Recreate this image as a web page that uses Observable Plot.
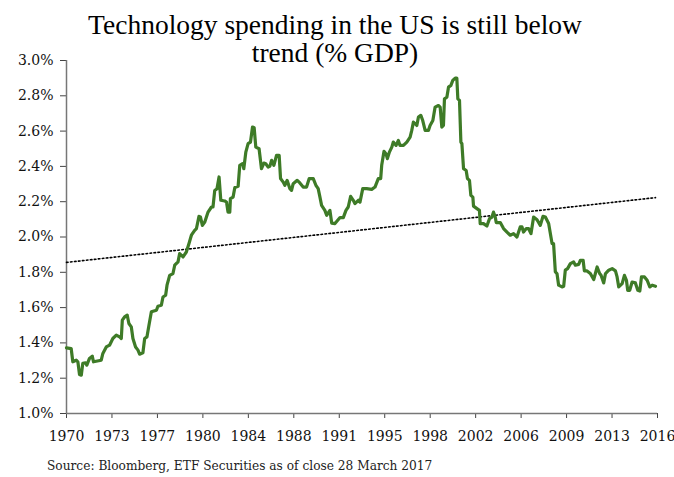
<!DOCTYPE html>
<html>
<head>
<meta charset="utf-8">
<script src="https://cdn.jsdelivr.net/npm/d3@7"></script>
<script src="https://cdn.jsdelivr.net/npm/@observablehq/plot@0.6"></script>
<style>
  html, body { margin: 0; padding: 0; background: #fff; }
  #wrap { position: relative; width: 674px; height: 477px; overflow: hidden; }
  #title { position: absolute; left: 0; top: 11px; width: 670px; text-align: center;
           font-family: "Liberation Serif", "Times New Roman", serif; font-size: 27.5px; line-height: 28px; color: #000; }
  #source { position: absolute; left: 47px; top: 459px; font-family: "DejaVu Serif", serif;
            font-size: 12.2px; color: #222; }
  #chart { position: absolute; left: 0; top: 0; }
</style>
</head>
<body>
<div id="wrap">
  <div id="chart"></div>
  <div id="title">Technology spending in the US is still below<br>trend (% GDP)</div>
  <div id="source">Source: Bloomberg, ETF Securities as of close 28 March 2017</div>
</div>
<script>
const years = [
1970.00,1970.37,1970.50,1970.77,1970.90,1971.03,1971.17,1971.29,1971.51,1971.61,1971.82,1972.04,1972.14,1972.75,1972.88,
1973.15,1973.41,1973.67,1973.94,1974.20,1974.34,1974.42,1974.60,1974.81,1974.94,1975.13,1975.26,1975.47,1975.66,1975.79,
1976.05,1976.19,1976.37,1976.53,1976.72,1977.12,1977.24,1977.51,1977.64,1977.85,1977.96,1978.17,1978.43,1978.57,1978.83,
1978.96,1979.23,1979.49,1979.70,1979.89,1980.15,1980.29,1980.49,1980.61,1980.76,1980.95,1981.21,1981.48,1981.60,1981.74,
1981.92,1982.08,1982.22,1982.53,1982.67,1982.79,1982.93,1982.98,1983.19,1983.33,1983.59,1983.72,1983.94,1984.04,1984.20,
1984.38,1984.57,1984.73,1984.86,1984.99,1985.25,1985.44,1985.63,1985.78,1985.97,1986.10,1986.24,1986.42,1986.63,1986.84,
1986.95,1987.16,1987.29,1987.47,1987.69,1987.82,1987.95,1988.27,1988.48,1988.74,1989.01,1989.22,1989.54,1989.75,1989.93,
1990.07,1990.20,1990.46,1990.60,1990.86,1991.00,1991.26,1991.66,1991.92,1992.13,1992.31,1992.50,1992.71,1992.84,1993.11,
1993.24,1993.46,1993.77,1994.17,1994.43,1994.69,1994.88,1994.96,1995.14,1995.30,1995.41,1995.57,1995.76,1995.88,1996.10,
1996.28,1996.41,1996.68,1996.95,1997.21,1997.34,1997.47,1997.60,1997.74,1997.87,1998.06,1998.21,1998.40,1998.66,1998.79,
1999.01,1999.19,1999.45,1999.59,1999.72,1999.85,1999.93,2000.12,2000.25,2000.44,2000.59,2000.78,2000.91,2000.99,2001.12,
2001.23,2001.31,2001.44,2001.65,2001.75,2001.91,2002.02,2002.18,2002.23,2002.50,2002.70,2002.76,2003.02,2003.29,2003.50,
2003.69,2003.81,2003.95,2004.03,2004.35,2004.61,2004.88,2005.14,2005.40,2005.67,2005.93,2006.07,2006.19,2006.41,2006.59,
2006.78,2006.99,2007.26,2007.52,2007.73,2007.92,2008.18,2008.45,2008.57,2008.71,2008.84,2008.97,2009.24,2009.37,2009.50,
2009.68,2009.90,2010.16,2010.30,2010.56,2010.69,2010.91,2011.01,2011.22,2011.48,2011.75,2011.88,2012.02,2012.22,2012.33,
2012.54,2012.68,2012.94,2013.21,2013.47,2013.60,2013.73,2014.00,2014.18,2014.34,2014.44,2014.60,2014.79,2015.05,2015.24,
2015.40,2015.53,2015.77,2015.98,2016.19,2016.38,2016.64
];
const spending = [
1.372,1.368,1.293,1.302,1.293,1.221,1.217,1.284,1.287,1.274,1.312,1.325,1.293,1.302,1.340,
1.377,1.387,1.425,1.444,1.434,1.425,1.529,1.547,1.557,1.510,1.491,1.425,1.377,1.359,1.336,
1.344,1.425,1.434,1.500,1.576,1.585,1.608,1.613,1.660,1.670,1.727,1.783,1.793,1.840,1.859,
1.906,1.887,1.915,1.963,2.010,2.038,2.048,2.117,2.113,2.066,2.085,2.141,2.170,2.170,2.264,
2.274,2.340,2.208,2.204,2.198,2.141,2.141,2.217,2.226,2.280,2.287,2.406,2.415,2.387,2.481,
2.529,2.538,2.623,2.619,2.509,2.500,2.387,2.419,2.415,2.396,2.400,2.434,2.406,2.462,2.462,
2.331,2.311,2.293,2.321,2.274,2.264,2.302,2.321,2.306,2.283,2.283,2.331,2.331,2.293,2.274,
2.226,2.179,2.151,2.123,2.151,2.079,2.076,2.110,2.110,2.151,2.170,2.230,2.208,2.189,2.208,
2.198,2.274,2.274,2.270,2.283,2.331,2.331,2.406,2.485,2.472,2.444,2.481,2.509,2.538,2.519,
2.547,2.519,2.519,2.538,2.566,2.604,2.651,2.642,2.632,2.679,2.689,2.660,2.604,2.604,2.632,
2.660,2.736,2.745,2.736,2.623,2.632,2.783,2.792,2.849,2.859,2.887,2.900,2.900,2.783,2.774,
2.538,2.529,2.387,2.377,2.331,2.321,2.236,2.226,2.175,2.161,2.151,2.076,2.076,2.062,2.104,
2.113,2.141,2.113,2.082,2.082,2.048,2.028,2.010,2.019,2.000,2.057,2.057,2.028,2.048,2.048,
2.019,2.113,2.098,2.066,2.117,2.113,2.076,1.963,1.963,1.802,1.793,1.727,1.717,1.721,1.812,
1.821,1.849,1.859,1.840,1.845,1.868,1.868,1.808,1.808,1.793,1.759,1.793,1.830,1.793,1.783,
1.740,1.793,1.812,1.821,1.808,1.774,1.717,1.736,1.783,1.755,1.698,1.698,1.745,1.740,1.698,
1.694,1.774,1.774,1.755,1.717,1.727,1.721
];
const trendYears = [1970.0, 2016.64];
const trendValues = [1.856, 2.223];
const yTicks = [1.0, 1.2, 1.4, 1.6, 1.8, 2.0, 2.2, 2.4, 2.6, 2.8, 3.0];
const xTicks = [1970, 1973.6, 1977.2, 1980.8, 1984.4, 1988.0, 1991.6, 1995.2, 1998.8, 2002.4, 2006.0, 2009.6, 2013.2, 2016.8];
const xTickLabels = ["1970","1973","1977","1980","1984","1988","1991","1995","1998","2002","2006","2009","2013","2016"];

const series = years.map((y, i) => ({year: y, value: spending[i]}));
const trend = trendYears.map((y, i) => ({year: y, value: trendValues[i]}));

const chart = Plot.plot({
  width: 674,
  height: 477,
  marginTop: 60,
  marginBottom: 64,
  marginLeft: 66,
  marginRight: 17,
  style: {fontFamily: "DejaVu Serif, serif", fontSize: "14px", color: "#111", background: "transparent"},
  x: {domain: [1970, 2016.8]},
  y: {domain: [1.0, 3.0]},
  marks: [
    Plot.axisY({ticks: yTicks, tickFormat: d => d.toFixed(1) + "%", tickSize: 6, tickPadding: 7, stroke: "#444", label: null, fontSize: 14}),
    Plot.axisX({ticks: xTicks, tickFormat: d => xTickLabels[xTicks.indexOf(d)], tickSize: 5, tickPadding: 13, stroke: "#444", label: null, fontSize: 14}),
    Plot.ruleX([1970], {stroke: "#777", strokeWidth: 1.5}),
    Plot.ruleY([1.0], {stroke: "#777", strokeWidth: 1.5}),
    Plot.line(trend, {x: "year", y: "value", stroke: "#000", strokeWidth: 1.6, strokeDasharray: "1.6,2.4"}),
    Plot.line(series, {x: "year", y: "value", stroke: "#3e7b27", strokeWidth: 3.2, curve: "linear"})
  ]
});
document.getElementById("chart").appendChild(chart);
</script>
</body>
</html>
